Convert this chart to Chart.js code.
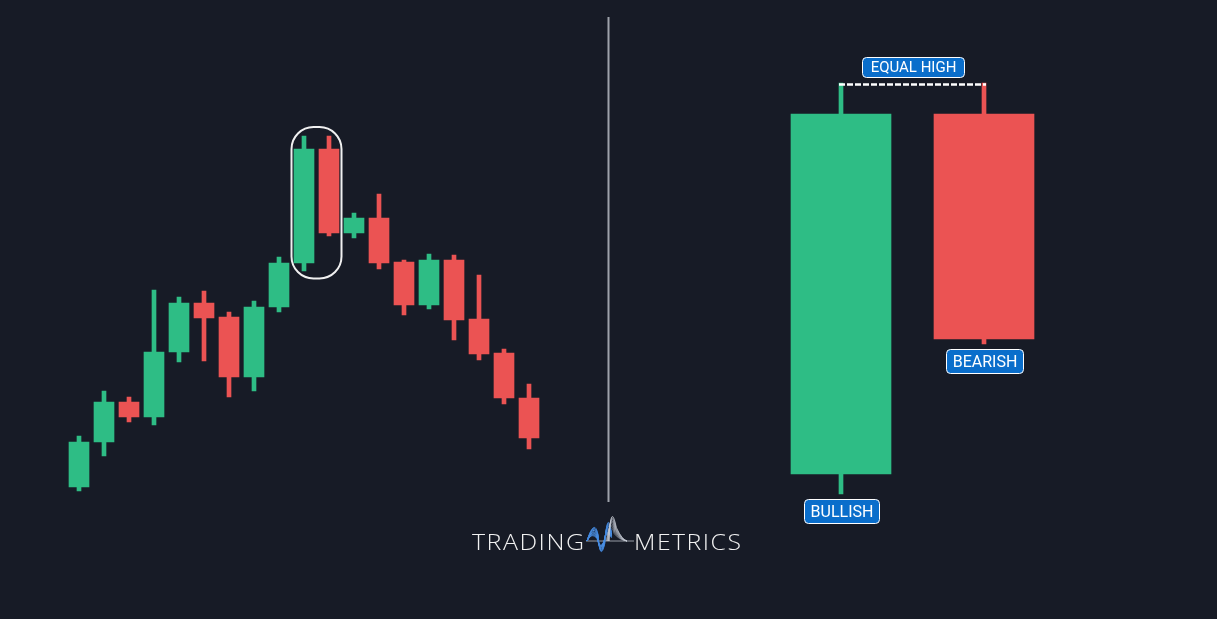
<!DOCTYPE html>
<html>
<head>
<meta charset="utf-8">
<title>Equal High - Tweezer Top</title>
<script src="https://cdn.jsdelivr.net/npm/chart.js@4.4.1/dist/chart.umd.min.js"></script>
<style>
  html, body { margin: 0; padding: 0; background: #171b26; overflow: hidden; }
  #wrap { position: relative; width: 1217px; height: 619px; }
  #wrap canvas { position: absolute; left: 0; top: 0; }
</style>
</head>
<body>
<div id="wrap">
  <canvas id="leftChart" width="1217" height="619"></canvas>
  <canvas id="rightChart" width="1217" height="619"></canvas>
</div>
<script>
// left chart: price run-up and roll-over (19 candles)
const leftLabels = ['1', '2', '3', '4', '5', '6', '7', '8', '9', '10', '11', '12', '13', '14', '15', '16', '17', '18', '19'];
const leftOpen  = [101.3, 105.8, 109.8, 108.3, 114.8, 119.7, 118.3, 112.3, 119.3, 123.7, 135.1, 126.7, 128.2, 123.8, 119.5, 124.0, 118.1, 114.7, 110.2];
const leftHigh  = [106.4, 110.9, 110.3, 121.0, 120.3, 120.9, 118.8, 119.9, 124.3, 136.4, 136.4, 128.7, 130.6, 124.0, 124.6, 124.5, 122.5, 115.1, 111.6];
const leftLow   = [100.9, 104.4, 107.8, 107.5, 113.8, 113.9, 110.3, 110.9, 118.8, 122.9, 126.4, 126.2, 123.1, 118.5, 119.1, 116.0, 114.0, 109.6, 105.1];
const leftClose = [105.8, 109.8, 108.3, 114.8, 119.7, 118.2, 112.3, 119.3, 123.7, 135.1, 126.7, 128.2, 123.7, 119.5, 124.0, 118.0, 114.6, 110.2, 106.2];
const highlightPair = [9, 10];

// right chart: the two candles blown up
const rightLabels = ['BULLISH', 'BEARISH'];
const rightOpen  = [102.6, 138.6];
const rightHigh  = [141.7, 141.7];
const rightLow   = [100.6, 115.6];
const rightClose = [138.6, 116.1];

const priceMin = 88.1;
const priceMax = 150;

const GREEN = '#2ebd85';
const RED = '#eb5353';
const LABEL_BLUE = '#0a6ecb';

function candleColors(open, close) {
  return open.map((o, i) => (close[i] >= o ? GREEN : RED));
}

function candleDatasets(open, high, low, close, bodyWidth, wickWidth) {
  const colors = candleColors(open, close);
  return [
    {
      label: 'wick',
      data: low.map((l, i) => [l, high[i]]),
      backgroundColor: colors,
      barThickness: wickWidth,
      grouped: false,
      borderWidth: 0,
      order: 2
    },
    {
      label: 'body',
      data: open.map((o, i) => [o, close[i]]),
      backgroundColor: colors,
      barThickness: bodyWidth,
      grouped: false,
      borderWidth: 0,
      order: 1
    }
  ];
}

function baseOptions(padding) {
  return {
    responsive: false,
    animation: false,
    events: [],
    layout: { padding: padding },
    plugins: { legend: { display: false }, tooltip: { enabled: false } },
    scales: {
      x: { type: 'category', display: false, offset: true, grid: { display: false } },
      y: { display: false, min: priceMin, max: priceMax, grid: { display: false } }
    }
  };
}

function drawLabel(ctx, text, cx, top, h, padX, size) {
  ctx.save();
  ctx.font = size + 'px Roboto, "Liberation Sans", Arial, sans-serif';
  const w = Math.round(ctx.measureText(text).width + padX * 2);
  const x = Math.round(cx - w / 2) + 0.5;
  ctx.beginPath();
  ctx.roundRect(x, top + 0.5, w, h, 4);
  ctx.fillStyle = LABEL_BLUE;
  ctx.fill();
  ctx.lineWidth = 1;
  ctx.strokeStyle = '#ffffff';
  ctx.stroke();
  ctx.fillStyle = '#ffffff';
  ctx.textAlign = 'center';
  ctx.textBaseline = 'middle';
  ctx.fillText(text, x + w / 2, top + h / 2 + 1.5);
  ctx.restore();
}

// logo words: glyphs stretched wider, small tracking, fitted to a width
function drawLogoWord(ctx, text, left, baseline, target) {
  const gap = 1.5;
  const widths = text.split('').map(c => ctx.measureText(c).width);
  const natural = widths.reduce((a, b) => a + b, 0);
  const sx = (target - gap * (text.length - 1)) / natural;
  ctx.save();
  ctx.translate(left, baseline);
  let x = 0;
  text.split('').forEach((c, i) => {
    ctx.save();
    ctx.translate(x, 0);
    ctx.scale(sx, 1);
    ctx.fillText(c, 0, 0);
    ctx.restore();
    x += widths[i] * sx + gap;
  });
  ctx.restore();
}

function drawLogoWave(ctx) {
  const y0 = 541;
  ctx.save();
  ctx.lineWidth = 0.9;
  // thin base line
  ctx.strokeStyle = 'rgba(200,205,215,0.8)';
  ctx.beginPath();
  ctx.moveTo(586, y0);
  ctx.lineTo(634, y0);
  ctx.stroke();
  // blue strands
  for (let k = 0; k < 9; k++) {
    const f = 0.4 + k * 0.075;
    ctx.strokeStyle = k % 2 ? '#5a9cec' : '#3b82db';
    ctx.beginPath();
    ctx.moveTo(587, y0);
    ctx.quadraticCurveTo(592 + k * 0.3, y0 - 24 * f, 597 + k * 0.15, y0 - 6 * f);
    ctx.quadraticCurveTo(600, y0 + 22 * f, 603.5 + k * 0.15, y0 + 3 * f);
    ctx.quadraticCurveTo(607.5, y0 - 34 * f, 611.5, y0 - 8 * f);
    ctx.stroke();
  }
  // gray decaying peak
  for (let k = 0; k < 9; k++) {
    const f = 0.55 + k * 0.06;
    ctx.strokeStyle = 'rgba(195,200,210,' + (0.3 + k * 0.07) + ')';
    ctx.beginPath();
    ctx.moveTo(606 + k * 0.4, y0);
    ctx.quadraticCurveTo(610.5, y0 - 40 * f, 614 + k * 0.3, y0 - 13 * f);
    ctx.quadraticCurveTo(619 + k * 0.4, y0 - 1, 627, y0);
    ctx.stroke();
  }
  ctx.restore();
}

// background, divider and logo
const backdropPlugin = {
  id: 'backdrop',
  beforeDraw(chart) {
    const ctx = chart.ctx;
    ctx.save();
    ctx.fillStyle = '#171b26';
    ctx.fillRect(0, 0, chart.width, chart.height);
    ctx.restore();
  },
  afterDraw(chart) {
    const ctx = chart.ctx;
    ctx.save();
    ctx.fillStyle = '#9ea2aa';
    ctx.fillRect(607.5, 17, 2, 485);
    ctx.fillStyle = '#f2f2f2';
    ctx.font = '300 22.5px "Open Sans", Lato, sans-serif';
    ctx.textBaseline = 'alphabetic';
    drawLogoWord(ctx, 'TRADING', 472, 549.5, 112);
    drawLogoWord(ctx, 'METRICS', 634, 549.5, 107);
    ctx.restore();
    drawLogoWave(ctx);
  }
};

// rounded outline around the two candles
const highlightPlugin = {
  id: 'highlight',
  afterDatasetsDraw(chart) {
    const ctx = chart.ctx;
    const x = chart.scales.x;
    const y = chart.scales.y;
    const a = highlightPair[0];
    const b = highlightPair[1];
    const left = x.getPixelForValue(a) - 12.5;
    const right = x.getPixelForValue(b) + 12.5;
    const top = y.getPixelForValue(Math.max(leftHigh[a], leftHigh[b])) - 9;
    const bottom = y.getPixelForValue(Math.min(leftLow[a], leftLow[b])) + 7.5;
    ctx.save();
    ctx.beginPath();
    ctx.roundRect(left, top, right - left, bottom - top, 22);
    ctx.lineWidth = 2;
    ctx.strokeStyle = '#f0f0f0';
    ctx.stroke();
    ctx.restore();
  }
};

// equal-high line and labels on the right
const annotatePlugin = {
  id: 'annotate',
  afterDatasetsDraw(chart) {
    const ctx = chart.ctx;
    const x = chart.scales.x;
    const y = chart.scales.y;
    const x0 = x.getPixelForValue(0);
    const x1 = x.getPixelForValue(1);
    const hy = y.getPixelForValue(Math.max(rightHigh[0], rightHigh[1]));

    ctx.save();
    ctx.strokeStyle = '#ffffff';
    ctx.lineWidth = 2.5;
    ctx.setLineDash([6, 2]);
    ctx.beginPath();
    ctx.moveTo(x0 - 2, hy + 1.5);
    ctx.lineTo(x1 + 2, hy + 1.5);
    ctx.stroke();
    ctx.restore();

    drawLabel(ctx, 'EQUAL HIGH', (x0 + x1) / 2, hy - 26, 20, 8, 15);
    drawLabel(ctx, rightLabels[1], x1, y.getPixelForValue(rightLow[1]) + 5, 24, 6, 16);
    drawLabel(ctx, rightLabels[0], x0, y.getPixelForValue(rightLow[0]) + 5, 24, 6, 16);
  }
};

new Chart(document.getElementById('leftChart').getContext('2d'), {
  type: 'bar',
  data: {
    labels: leftLabels,
    datasets: candleDatasets(leftOpen, leftHigh, leftLow, leftClose, 20, 4)
  },
  options: baseOptions({ left: 66.5, right: 675.5, top: 0, bottom: 0 }),
  plugins: [backdropPlugin, highlightPlugin]
});

new Chart(document.getElementById('rightChart').getContext('2d'), {
  type: 'bar',
  data: {
    labels: rightLabels,
    datasets: candleDatasets(rightOpen, rightHigh, rightLow, rightClose, 100, 4)
  },
  options: baseOptions({ left: 769.5, right: 161.5, top: 0, bottom: 0 }),
  plugins: [annotatePlugin]
});
</script>
</body>
</html>
